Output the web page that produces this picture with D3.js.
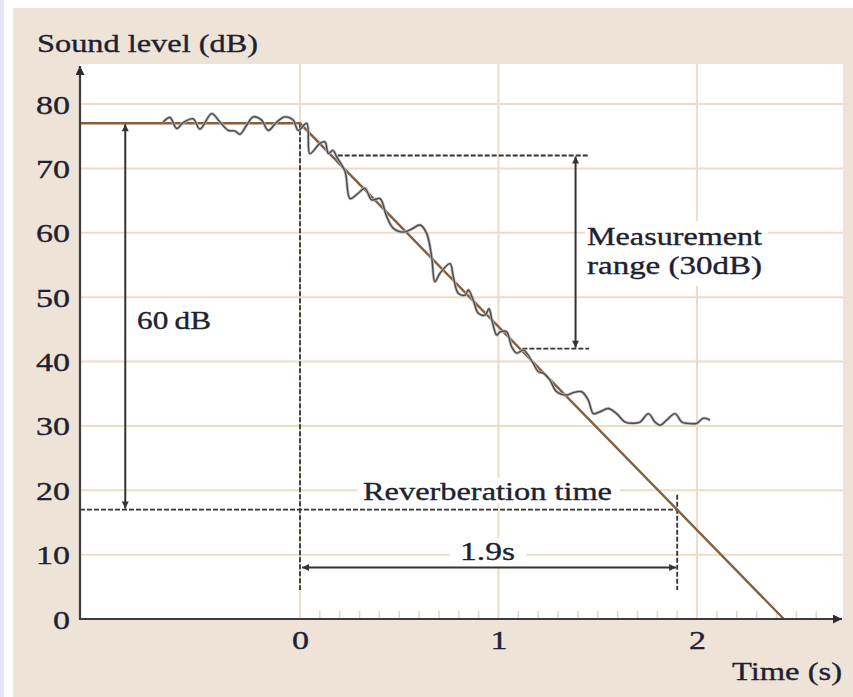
<!DOCTYPE html>
<html><head><meta charset="utf-8">
<script src="https://cdn.jsdelivr.net/npm/d3@7"></script>
<style>
body{margin:0;background:#fff}
svg{display:block}
text{font-family:"Liberation Serif","Times New Roman",serif;fill:#1e2130;stroke:#1e2130;stroke-width:0.35px}
</style>
</head><body>
<svg id="c" width="853" height="697"></svg>
<script>
// ---------- data ----------
const yTickValues = [0, 10, 20, 30, 40, 50, 60, 70, 80];
const xTickValues = [0, 1, 2];
const minorTicks = [0.1,0.2,0.3,0.4,0.5,0.6,0.7,0.8,0.9,1.1,1.2,1.3,1.4,1.5,1.6,1.7,1.8,1.9,2.1,2.2,2.3,2.4,2.5,2.6];
// measured (noisy) sound level
const measuredTime = [-0.689,-0.655,-0.621,-0.588,-0.538,-0.504,-0.445,-0.403,-0.361,-0.327,-0.302,-0.269,-0.235,-0.193,-0.160,-0.117,-0.076,-0.034,-0.009,0.034,
  0.050,0.101,0.126,0.143,0.166,0.185,0.227,0.252,0.292,0.327,0.361,0.403,0.437,0.470,0.520,0.564,0.605,0.638,0.663,0.680,0.705,0.756,0.772,0.797,0.831,0.848,0.873,0.898,0.932,0.952,0.967,0.991,1.008,1.041,1.066,1.092,1.125,1.142,1.175,1.201,1.226,1.259,1.293,1.344,1.380,1.419,1.452,1.478,1.511,1.553,1.595,1.637,1.679,1.713,1.755,1.788,1.814,1.847,1.889,1.923,1.948,1.998,2.032,2.065];
const measuredLevel = [77.2,77.9,76.2,77.1,77.7,76.1,78.5,77.2,75.9,75.8,75.3,76.7,78.0,77.5,75.9,77.2,78.0,77.5,75.9,77.0,
  72.3,73.9,74.1,72.3,72.8,71.8,69.5,65.3,66.1,66.9,65.1,65.3,62.5,60.7,60.1,60.6,61.2,59.9,56.3,52.4,53.7,55.2,53.2,50.6,50.3,51.1,49.5,47.5,47.2,48.2,46.4,44.1,44.6,44.6,42.3,41.3,41.8,41.3,39.7,38.4,38.2,37.1,35.3,34.8,35.2,35.3,34.0,31.9,32.2,32.7,31.9,30.6,30.4,30.6,31.9,30.6,30.1,30.9,31.9,30.6,30.4,30.4,31.2,30.9];
// fitted decay line
const fitTime = [-1.108, 0, 2.437];
const fitLevel = [77, 77, 0];
// annotation values
const startLevel = 77, endLevel = 17, rangeTop = 72, rangeBottom = 42;
const reverbTime = 1.9;
const labels = {y:"Sound level (dB)", x:"Time (s)", sixty:"60\u2009dB", meas1:"Measurement", meas2:"range (30dB)", reverb:"Reverberation time", rt:"1.9s"};

// ---------- layout ----------
const svg = d3.select("#c");
const W = 853, H = 697;
const x = d3.scaleLinear().domain([-1.108, 2.73]).range([80, 842]);
const y = d3.scaleLinear().domain([0, 80]).range([619, 104]);
const plotTop = 64, plotRight = 843;

svg.append("rect").attr("width", W).attr("height", H).attr("fill", "#fff");
svg.append("rect").attr("x", 0).attr("y", 0).attr("width", 4).attr("height", H).attr("fill", "#e4e8f6");
svg.append("rect").attr("x", 13).attr("y", 8).attr("width", W - 13).attr("height", H - 8).attr("fill", "#eee3d7");
svg.append("rect").attr("x", x.range()[0]).attr("y", plotTop).attr("width", plotRight - x.range()[0]).attr("height", y(0) - plotTop).attr("fill", "#fff");

// markers
const defs = svg.append("defs");
function marker(id, w, h, color) {
  defs.append("marker").attr("id", id).attr("viewBox", "0 0 10 10").attr("refX", 10).attr("refY", 5)
    .attr("markerUnits", "userSpaceOnUse").attr("markerWidth", w).attr("markerHeight", h)
    .attr("orient", "auto-start-reverse")
    .append("path").attr("d", "M0,0L10,5L0,10z").attr("fill", color);
}
marker("axArrow", 14, 9, "#2c2c2c");
marker("arr", 9, 7, "#333");

// grid
const gridColor = "#ecdcc8";
const grid = svg.append("g");
grid.selectAll("line.h").data(yTickValues.filter(d => d > 0)).join("line")
  .attr("x1", x.range()[0]).attr("x2", plotRight).attr("y1", d => y(d)).attr("y2", d => y(d))
  .attr("stroke", gridColor).attr("stroke-width", 2);
grid.selectAll("line.v").data(xTickValues).join("line")
  .attr("x1", d => x(d)).attr("x2", d => x(d)).attr("y1", plotTop).attr("y2", y(0))
  .attr("stroke", gridColor).attr("stroke-width", 2);

// minor ticks on x axis
svg.append("g").selectAll("line").data(minorTicks).join("line")
  .attr("x1", d => x(d)).attr("x2", d => x(d)).attr("y1", y(0) - 8).attr("y2", y(0))
  .attr("stroke", "#dcd6ce").attr("stroke-width", 1.5);

// text background boxes (hide grid behind labels)
function bgBox(x0, y0, x1, y1) {
  svg.append("rect").attr("x", x0).attr("y", y0).attr("width", x1 - x0).attr("height", y1 - y0).attr("fill", "#fff");
}
bgBox(357, 478, 620, 503);
bgBox(450, 538, 527, 566);
bgBox(585, 221, 768, 286);

// dashed construction lines
const dash = svg.append("g").attr("stroke", "#333").attr("stroke-width", 1.8).attr("stroke-dasharray", "5,2").attr("fill", "none");
dash.append("line").attr("x1", x(0)).attr("x2", x(0)).attr("y1", y(startLevel)).attr("y2", y(4.5));
dash.append("line").attr("x1", x(reverbTime)).attr("x2", x(reverbTime)).attr("y1", y(19.3)).attr("y2", y(4.5));
dash.append("line").attr("x1", x.range()[0]).attr("x2", x(reverbTime)).attr("y1", y(endLevel)).attr("y2", y(endLevel));
dash.append("line").attr("x1", x(0.19)).attr("x2", x(1.456)).attr("y1", y(rangeTop)).attr("y2", y(rangeTop));
dash.append("line").attr("x1", x(1.12)).attr("x2", x(1.456)).attr("y1", y(rangeBottom)).attr("y2", y(rangeBottom));

// fitted line
const line = d3.line().x(d => x(d[0])).y(d => y(d[1]));
svg.append("path").datum(fitTime.map((t, i) => [t, fitLevel[i]]))
  .attr("d", line).attr("fill", "none").attr("stroke", "#85603e").attr("stroke-width", 2.4);

// measured curve
const curve = d3.line().x(d => x(d[0])).y(d => y(d[1])).curve(d3.curveCatmullRom.alpha(0.5));
svg.append("path").datum(measuredTime.map((t, i) => [t, measuredLevel[i]]))
  .attr("d", curve).attr("fill", "none").attr("stroke", "#b8b8b8").attr("stroke-width", 3);
svg.append("path").datum(measuredTime.map((t, i) => [t, measuredLevel[i]]))
  .attr("d", curve).attr("fill", "none").attr("stroke", "#4a4a4a").attr("stroke-width", 1.4);

// double arrows
const arrows = svg.append("g").attr("stroke", "#333").attr("stroke-width", 2);
arrows.append("line").attr("x1", x(-0.88)).attr("x2", x(-0.88)).attr("y1", y(startLevel) + 1).attr("y2", y(endLevel) - 1)
  .attr("marker-start", "url(#arr)").attr("marker-end", "url(#arr)");
arrows.append("line").attr("x1", x(1.388)).attr("x2", x(1.388)).attr("y1", y(rangeTop) + 1).attr("y2", y(rangeBottom) - 1)
  .attr("marker-start", "url(#arr)").attr("marker-end", "url(#arr)");
arrows.append("line").attr("x1", x(0) + 2).attr("x2", x(reverbTime) - 1).attr("y1", y(8)).attr("y2", y(8))
  .attr("marker-start", "url(#arr)").attr("marker-end", "url(#arr)");

// axes lines with arrows
svg.append("line").attr("x1", x.range()[0]).attr("x2", x.range()[0]).attr("y1", y(0) + 1).attr("y2", 66)
  .attr("stroke", "#3c3c3c").attr("stroke-width", 2.2).attr("marker-end", "url(#axArrow)");
svg.append("line").attr("x1", x.range()[0] - 1).attr("x2", 842).attr("y1", y(0)).attr("y2", y(0))
  .attr("stroke", "#3c3c3c").attr("stroke-width", 2.2).attr("marker-end", "url(#axArrow)");

// tick labels via axes
const FS = 26;
const yAx = svg.append("g").attr("transform", `translate(${x.range()[0]},0)`)
  .call(d3.axisLeft(y).tickValues(yTickValues).tickSize(0).tickPadding(10).tickFormat(d3.format("d")));
yAx.select(".domain").remove();
yAx.selectAll("text").attr("font-size", FS).attr("font-family", null).attr("dy", "0.35em")
  .attr("textLength", d => d === 0 ? 17 : 34).attr("lengthAdjust", "spacingAndGlyphs");
const xAx = svg.append("g").attr("transform", `translate(0,${y(0)})`)
  .call(d3.axisBottom(x).tickValues(xTickValues).tickSize(0).tickPadding(12).tickFormat(d3.format("d")));
xAx.select(".domain").remove();
xAx.selectAll("text").attr("font-size", FS).attr("font-family", null).attr("dy", "0.71em")
  .attr("textLength", 17).attr("lengthAdjust", "spacingAndGlyphs");

// text labels
function label(txt, x0, base, len) {
  svg.append("text").attr("x", x0).attr("y", base).attr("font-size", FS)
    .attr("textLength", len).attr("lengthAdjust", "spacingAndGlyphs").text(txt);
}
label(labels.y, 37, 52, 221);
label(labels.x, 732, 680, 110);
label(labels.sixty, 137, 329, 74);
label(labels.meas1, 587, 245, 175);
label(labels.meas2, 587, 274, 175);
label(labels.reverb, 363, 500, 249);
label(labels.rt, 460, 560, 55);
</script>
</body></html>
